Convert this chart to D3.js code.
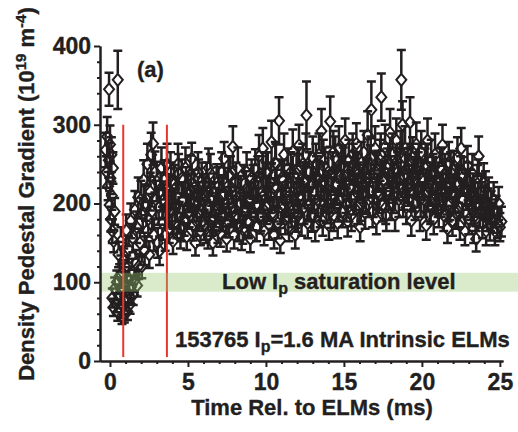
<!DOCTYPE html>
<html>
<head>
<meta charset="utf-8">
<script src="https://cdn.jsdelivr.net/npm/d3@7"></script>
<style>
  body { margin: 0; background: #fff; }
  text { font-family: "Liberation Sans", Arial, Helvetica, sans-serif; font-weight: bold; fill: #231f20; stroke: #231f20; stroke-width: 0.35px; }
</style>
</head>
<body>
<div id="chart"></div>
<script>
// time relative to ELM (ms), pedestal density gradient (1e19 m^-4), error bar half-height
const timeMs = [
  -0.28,-0.22,-0.18,-0.12,-0.08,-0.06,-0.02,0.00,0.03,0.06,0.09,0.12,0.15,0.19,0.24,0.30,0.50,
  0.15,0.22,0.30,0.37,0.44,0.50,0.56,0.62,0.67,0.72,0.77,0.82,0.87,0.92,0.97,1.02,1.07,1.12,1.17,1.23,1.29,1.35,1.42,1.49,1.57,1.65,1.74,1.84,
  0.55,0.70,0.88,1.04,1.19,1.33,1.46,1.60,1.71,1.81,
  1.92,1.98,2.04,2.10,2.16,2.22,2.28,2.34,2.40,2.46,2.52,2.58,2.64,2.70,2.76,2.82,2.88,2.94,3.00,3.06,
  3.12,3.18,3.24,3.30,3.36,3.42,3.48,3.54,3.60,3.66,
  3.72,3.80,3.88,3.96,4.04,4.12,4.20,4.28,4.36,4.44,
  4.52,4.60,4.68,4.76,4.84,4.92,5.00,5.08,5.16,5.24,
  5.32,5.40,5.48,5.56,5.64,5.72,5.80,5.88,5.96,6.04,
  6.12,6.20,6.28,6.36,6.44,6.52,6.60,6.68,6.76,6.84,
  6.92,7.00,7.08,7.16,7.24,7.32,7.40,7.48,7.56,7.64,
  7.72,7.80,7.88,7.96,8.04,8.12,8.20,8.28,8.36,8.44,
  8.52,8.60,8.68,8.76,8.84,8.92,9.00,9.08,9.16,9.24,
  9.32,9.40,9.48,9.56,9.64,9.72,9.80,9.88,9.96,10.04,
  10.12,10.20,10.28,10.36,10.44,10.52,10.60,10.68,10.76,10.84,
  10.92,11.00,11.08,11.16,11.24,11.32,11.40,11.48,11.56,11.64,
  11.72,11.80,11.88,11.96,12.04,12.12,12.20,12.28,12.36,12.44,
  12.52,12.60,12.68,12.76,12.84,12.92,13.00,13.08,13.16,13.24,
  13.32,13.40,13.48,13.56,13.64,13.72,13.80,13.88,13.96,14.04,
  14.12,14.20,14.28,14.36,14.44,14.52,14.60,14.68,14.76,14.84,
  14.92,15.00,15.08,15.16,15.24,15.32,15.40,15.48,15.56,15.64,
  15.72,15.80,15.88,15.96,16.04,16.12,16.20,16.28,16.36,16.44,
  16.52,16.60,16.68,16.76,16.84,16.92,17.00,17.08,17.16,17.24,
  17.32,17.40,17.48,17.56,17.64,17.72,17.80,17.88,17.96,18.04,
  18.12,18.20,18.28,18.36,18.44,18.52,18.60,18.68,18.76,18.84,
  18.92,19.00,19.08,19.16,19.24,19.32,19.40,19.48,19.56,19.64,
  19.72,19.80,19.88,19.96,20.04,20.12,20.20,20.28,20.36,20.44,
  20.52,20.60,20.68,20.76,20.84,20.92,21.00,21.08,21.16,21.24,
  21.32,21.40,21.48,21.56,21.64,21.72,21.80,21.88,21.96,22.04,
  22.12,22.20,22.28,22.36,22.44,22.52,22.60,22.68,22.76,22.84,
  22.92,23.00,23.08,23.16,23.24,23.32,23.40,23.48,23.56,23.64,
  23.72,23.80,23.88,23.96,24.04,24.12,24.20,24.28,24.36,24.44,
  24.52,24.60,24.68,24.76,24.84,24.92,25.00,25.10,
  3.76,3.92,4.08,4.24,4.40,4.56,4.72,4.88,5.04,5.20,
  5.36,5.52,5.68,5.84,6.00,6.16,6.32,6.48,6.64,6.80,
  6.96,7.12,7.28,7.44,7.60,7.76,7.92,8.08,8.24,8.40,
  8.56,8.72,8.88,9.04,9.20,9.36,9.52,9.68,9.84,10.00,
  10.16,10.32,10.48,10.64,10.80,10.96,11.12,11.28,11.44,11.60,
  11.76,11.92,12.08,12.24,12.40,12.56,12.72,12.88,13.04,13.20,
  13.36,13.52,13.68,13.84,14.00,14.16,14.32,14.48,14.64,14.80,
  14.96,15.12,15.28,15.44,15.60,15.76,15.92,16.08,16.24,16.40,
  16.56,16.72,16.88,17.04,17.20,17.36,17.52,17.68,17.84,18.00,
  18.16,18.32,18.48,18.64,18.80,18.96,19.12,19.28,19.44,19.60,
  19.76,19.92,20.08,20.24,20.40,20.56,20.72,20.88,21.04,21.20,
  21.36,21.52,21.68,21.84,22.00,22.16,22.32,22.48,22.64,22.80,
  22.96,23.12,23.28,23.44,23.60,23.76,23.92,24.08,24.24,24.40
];
const gradient = [
  268,240,285,222,255,345,198,275,232,180,262,210,165,245,152,190,357,
  80,68,92,74,100,62,84,108,66,92,57,112,70,60,98,76,118,63,86,104,72,94,114,84,102,124,96,120,
  135,152,128,166,142,178,156,192,170,208,
  150,205,120,185,230,140,200,165,250,180,135,215,262,190,276,160,240,205,228,150,
  195,140,215,245,175,205,230,160,195,250,
  215,168,240,190,152,225,198,175,250,182,
  160,232,205,178,245,158,212,190,236,257,
  172,220,150,198,240,185,165,228,205,173,
  210,228,160,195,238,178,150,215,190,226,
  168,205,162,240,185,257,200,155,222,176,
  235,195,272,160,210,185,245,172,200,158,
  167,225,190,240,178,205,155,232,186,212,
  244,170,198,260,182,215,270,165,228,195,
  240,173,210,278,188,160,252,220,175,305,
  153,232,198,262,180,215,245,170,225,190,
  266,205,160,238,184,274,210,178,250,195,
  228,312,175,240,200,184,258,215,170,235,
  205,262,190,292,178,228,245,196,218,172,
  304,210,240,185,258,225,175,270,205,248,
  190,235,280,198,177,255,220,185,262,208,
  240,276,195,228,170,252,212,265,188,232,
  287,205,248,319,190,225,270,180,242,210,
  255,335,198,230,272,185,245,215,290,200,
  262,225,185,280,240,205,250,357,300,215,
  270,195,245,225,303,178,258,235,200,275,
  218,250,185,265,232,205,245,172,280,220,
  198,255,235,180,262,210,228,190,245,205,
  274,185,238,215,168,252,200,230,178,242,
  210,188,258,225,172,270,205,235,165,215,
  248,180,220,195,238,168,205,155,225,260,
  190,215,175,227,200,165,185,211,172,195,
  182,205,165,190,175,200,170,177,
  195,228,180,210,238,170,205,222,188,215,
  200,178,232,192,214,168,245,205,182,198,
  222,185,210,176,235,200,190,228,170,212,
  192,218,175,205,225,198,235,185,210,240,
  200,226,185,250,212,195,230,205,182,240,
  215,190,245,205,228,262,198,222,185,250,
  230,200,255,212,240,190,265,222,198,235,
  245,210,228,192,250,215,238,200,225,210,
  232,258,205,240,215,262,228,195,250,235,
  210,245,228,265,205,238,220,250,212,232,
  240,205,228,250,215,195,238,222,205,245,
  215,232,198,240,210,225,190,235,205,220,
  228,200,215,185,232,205,190,218,198,185
];
const gradErr = [
  22,20,25,18,22,21,18,24,20,16,22,18,15,20,14,17,37,
  12,11,14,12,15,11,13,15,11,14,10,16,12,11,14,12,16,11,13,15,12,14,16,13,14,17,14,16,
  16,18,15,20,17,22,18,24,20,25,
  18,24,15,22,25,18,22,20,26,22,17,24,28,22,27,20,26,24,25,19,
  22,18,24,26,21,23,25,20,22,26,
  22,18,25,20,16,24,21,19,26,20,
  17,24,22,19,26,17,23,20,25,20,
  19,23,16,21,25,20,18,24,22,19,
  22,24,17,21,25,19,16,23,20,24,
  18,22,17,25,20,21,21,16,23,19,
  25,21,26,17,22,20,26,19,21,17,
  18,24,20,25,19,22,17,24,20,23,
  25,18,21,27,20,23,26,18,24,21,
  25,19,22,27,20,17,26,23,19,30,
  16,24,21,27,19,23,25,18,24,20,
  28,22,17,25,20,26,22,19,26,21,
  24,43,19,25,21,20,27,23,18,25,
  22,27,20,28,19,24,26,21,23,18,
  32,22,25,20,27,24,19,28,22,26,
  20,25,28,21,19,26,23,20,27,22,
  25,26,21,24,18,26,22,27,20,24,
  30,22,26,36,20,24,28,19,25,22,
  26,30,21,24,28,20,25,23,30,21,
  27,24,20,28,25,22,26,38,30,23,
  28,21,25,24,32,19,26,24,21,28,
  23,26,20,27,24,22,25,18,28,23,
  21,26,24,19,27,22,24,20,25,22,
  26,20,25,23,18,26,21,24,19,25,
  22,20,26,24,18,26,22,24,18,23,
  25,19,23,21,25,18,22,16,24,25,
  20,23,19,24,21,18,20,22,19,21,
  19,22,18,20,19,21,18,19,
  21,24,19,22,25,18,22,24,20,23,
  22,19,24,21,23,18,25,22,20,21,
  24,20,22,19,25,21,20,24,18,23,
  21,23,19,22,24,21,25,20,22,25,
  22,24,20,26,23,21,25,22,20,25,
  23,21,26,22,24,27,21,24,20,26,
  24,22,26,23,25,21,27,24,21,25,
  26,22,24,21,26,23,25,22,24,23,
  24,27,22,25,23,27,24,21,26,25,
  22,26,24,27,22,25,23,26,22,24,
  25,22,24,26,23,21,25,24,22,26,
  23,24,21,25,22,24,20,25,22,23,
  24,21,23,20,24,22,20,23,21,20
];

const xMajor = [0, 5, 10, 15, 20, 25];
const xMinor = [1, 2, 3, 4, 6, 7, 8, 9, 11, 12, 13, 14, 16, 17, 18, 19, 21, 22, 23, 24];
const yMajor = [0, 100, 200, 300, 400];
const yMinor = [20, 40, 60, 80, 120, 140, 160, 180, 220, 240, 260, 280, 320, 340, 360, 380];
const elmMarkers = [0.85, 3.65];   // red vertical lines (ms)
const elmMarkerSpan = [5, 300];
const saturationBand = [88, 112];  // low Ip saturation level

const width = 518, height = 432;
const ink = "#231f20";

const svg = d3.select("#chart").append("svg")
  .attr("width", width)
  .attr("height", height);

const x = d3.scaleLinear().domain([-0.64, 25.2]).range([100, 503]);
const y = d3.scaleLinear().domain([0, 400]).range([361, 46]);

const points = timeMs.map((t, i) => ({ t: t, v: gradient[i], e: gradErr[i] }));

// error bars + diamonds
const half = 6, halfW = 5, cap = 4.5;
const marks = svg.append("g")
  .attr("stroke", ink)
  .attr("fill", "none");

const pt = marks.selectAll(".pt")
  .data(points)
  .enter().append("g")
  .attr("class", "pt")
  .attr("transform", d => `translate(${x(d.t)},0)`);

pt.append("path")
  .attr("stroke-width", 2.5)
  .attr("d", d => {
    const top = y(d.v + d.e), bot = y(d.v - d.e), c = y(d.v);
    let p = `M${-cap},${top}H${cap}M${-cap},${bot}H${cap}`;
    if (c - half > top) p += `M0,${top}V${c - half}`;
    if (c + half < bot) p += `M0,${c + half}V${bot}`;
    return p;
  });

pt.append("path")
  .attr("stroke-width", 2)
  .attr("d", d => {
    const c = y(d.v);
    return `M0,${c - half}L${halfW},${c}L0,${c + half}L${-halfW},${c}Z`;
  });

// red ELM window lines
svg.selectAll(".elm")
  .data(elmMarkers)
  .enter().append("line")
  .attr("class", "elm")
  .attr("x1", d => x(d)).attr("x2", d => x(d))
  .attr("y1", y(elmMarkerSpan[0])).attr("y2", y(elmMarkerSpan[1]))
  .attr("stroke", "#e8362d")
  .attr("stroke-width", 2);

// saturation band on top (translucent)
svg.append("rect")
  .attr("x", x.range()[0] + 1)
  .attr("y", y(saturationBand[1]))
  .attr("width", width - x.range()[0] - 1)
  .attr("height", y(saturationBand[0]) - y(saturationBand[1]))
  .attr("fill", "rgb(150,200,110)")
  .attr("fill-opacity", 0.36);

// axes
function styleAxis(g) {
  g.selectAll("path, line").attr("stroke", ink).attr("stroke-width", 2);
  g.selectAll("text").attr("font-size", 23).attr("fill", ink)
    .attr("font-family", '"Liberation Sans", Arial, sans-serif').attr("font-weight", "bold");
}

svg.append("g")
  .attr("transform", `translate(0,${y(0)})`)
  .call(d3.axisBottom(x).tickValues(xMinor).tickSize(3).tickSizeOuter(0).tickFormat(""))
  .call(styleAxis);
svg.append("g")
  .attr("transform", `translate(0,${y(0)})`)
  .call(d3.axisBottom(x).tickValues(xMajor).tickSize(6).tickSizeOuter(0).tickPadding(7).tickFormat(d3.format("d")))
  .call(styleAxis);

svg.append("g")
  .attr("transform", `translate(${x.range()[0]},0)`)
  .call(d3.axisLeft(y).tickValues(yMinor).tickSize(3).tickSizeOuter(0).tickFormat(""))
  .call(styleAxis);
svg.append("g")
  .attr("transform", `translate(${x.range()[0]},0)`)
  .call(d3.axisLeft(y).tickValues(yMajor).tickSize(6).tickSizeOuter(0).tickPadding(3).tickFormat(d3.format("d")))
  .call(styleAxis);

// axis titles
svg.append("text")
  .attr("x", 312).attr("y", 415)
  .attr("text-anchor", "middle")
  .attr("font-size", 22)
  .text("Time Rel. to ELMs (ms)");

const yt = svg.append("text")
  .attr("transform", "translate(34,194) rotate(-90)")
  .attr("text-anchor", "middle")
  .attr("font-size", 22);
yt.append("tspan").text("Density Pedestal Gradient (10");
yt.append("tspan").attr("dy", -8).attr("font-size", 15).text("19");
yt.append("tspan").attr("dy", 8).text(" m");
yt.append("tspan").attr("dy", -8).attr("font-size", 15).text("-4");
yt.append("tspan").attr("dy", 8).text(")");

// annotations
svg.append("text")
  .attr("x", 137).attr("y", 77)
  .attr("font-size", 22)
  .text("(a)");

const band = svg.append("text")
  .attr("x", 222).attr("y", 289)
  .attr("font-size", 22);
band.append("tspan").text("Low I");
band.append("tspan").attr("dy", 5).attr("font-size", 16).text("p");
band.append("tspan").attr("dy", -5).text(" saturation level");

const shot = svg.append("text")
  .attr("x", 175).attr("y", 347)
  .attr("font-size", 22);
shot.append("tspan").text("153765 I");
shot.append("tspan").attr("dy", 5).attr("font-size", 16).text("p");
shot.append("tspan").attr("dy", -5).text("=1.6 MA Intrinsic ELMs");
</script>
</body>
</html>
